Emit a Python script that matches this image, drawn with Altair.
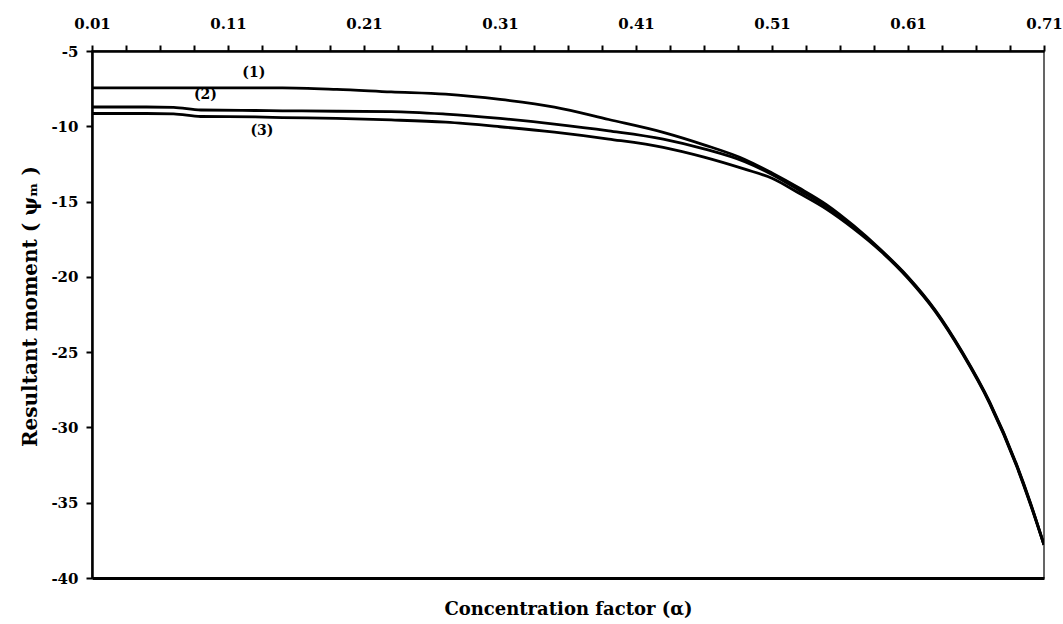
import altair as alt
import pandas as pd

alpha = [0.01, 0.05, 0.07, 0.09, 0.13, 0.15, 0.19, 0.23, 0.27, 0.31, 0.35, 0.39, 0.43, 0.46,
         0.49, 0.51, 0.53, 0.55, 0.57, 0.59, 0.61, 0.63, 0.65, 0.67, 0.69, 0.70, 0.71]
curve1 = [-7.45, -7.45, -7.45, -7.45, -7.45, -7.45, -7.55, -7.72, -7.87, -8.22, -8.73, -9.55, -10.40,
          -11.23, -12.20, -13.10, -14.10, -15.20, -16.60, -18.20, -20.00, -22.20, -25.00, -28.30,
          -32.50, -35.00, -37.80]
curve2 = [-8.72, -8.72, -8.75, -8.92, -8.95, -8.97, -9.00, -9.02, -9.19, -9.48, -9.85, -10.30, -10.85,
          -11.50, -12.35, -13.20, -14.25, -15.35, -16.70, -18.25, -20.05, -22.25, -25.05, -28.35,
          -32.55, -35.05, -37.80]
curve3 = [-9.15, -9.15, -9.18, -9.35, -9.38, -9.42, -9.48, -9.58, -9.73, -10.03, -10.39, -10.85, -11.40,
          -12.05, -12.85, -13.45, -14.45, -15.50, -16.80, -18.30, -20.10, -22.30, -25.10, -28.40,
          -32.60, -35.10, -37.80]

label_text = ["(1)", "(2)", "(3)"]
label_x = [0.129, 0.0934, 0.135]
label_y = [-6.46, -7.94, -10.33]

top_ticks = [round(0.01 + 0.025 * i, 3) for i in range(29)]
y_ticks = [-40, -35, -30, -25, -20, -15, -10, -5]

rows = []
for name, vals in [("1", curve1), ("2", curve2), ("3", curve3)]:
    for a, v in zip(alpha, vals):
        rows.append({"alpha": a, "value": v, "curve": name})
df = pd.DataFrame(rows)
lab = pd.DataFrame({"alpha": label_x, "value": label_y, "text": label_text})

FONT = "DejaVu Serif"

xscale = alt.Scale(domain=[0.01, 0.71], nice=False, zero=False)
yscale = alt.Scale(domain=[-40, -5], nice=False, zero=False)

label_expr = ("abs((datum.value-0.01)/0.1 - round((datum.value-0.01)/0.1)) < 0.001 ? "
              "format(datum.value, '.2f') : ''")

lines = alt.Chart(df).mark_line(color="black", strokeWidth=2.8, clip=True,
                                interpolate="monotone").encode(
    x=alt.X("alpha:Q", scale=xscale,
            axis=alt.Axis(orient="top", values=top_ticks, labelExpr=label_expr, title=None,
                          grid=False, domainColor="black", domainWidth=2.5,
                          tickColor="black", tickWidth=2, tickSize=6,
                          labelFont=FONT, labelFontSize=15, labelFontWeight="bold",
                          labelColor="black", labelPadding=14, labelFlush=False,
                          labelOverlap=False)),
    y=alt.Y("value:Q", scale=yscale,
            axis=alt.Axis(values=y_ticks, grid=False, labelExpr="datum.value + ''",
                          title="Resultant moment ( ψₘ )",
                          titleFont=FONT, titleFontSize=20, titleFontWeight="bold",
                          titleColor="black", titlePadding=10, titleY=255,
                          domainColor="black", domainWidth=2.5,
                          tickColor="black", tickWidth=2, tickSize=6,
                          labelFont=FONT, labelFontSize=15, labelFontWeight="bold",
                          labelColor="black", labelPadding=8)),
    detail="curve:N",
)

labels = alt.Chart(lab).mark_text(font=FONT, fontSize=14, fontWeight="bold", color="black").encode(
    x=alt.X("alpha:Q", scale=xscale,
            axis=alt.Axis(orient="bottom", labels=False, ticks=False, grid=False,
                          title="Concentration factor (α)",
                          titleFont=FONT, titleFontSize=18, titleFontWeight="bold",
                          titleColor="black", titlePadding=22,
                          domainColor="black", domainWidth=3)),
    y=alt.Y("value:Q", scale=yscale),
    text="text:N",
)

chart = alt.layer(lines, labels).resolve_axis(x="independent").properties(
    width=952, height=527,
    autosize=alt.AutoSizeParams(type="none"),
    padding={"left": 92, "top": 51, "right": 19, "bottom": 46},
    background="white",
).configure_view(stroke="#333333", strokeWidth=1.5)

chart.save("out.html", embed_options={"renderer": "svg", "actions": False})
